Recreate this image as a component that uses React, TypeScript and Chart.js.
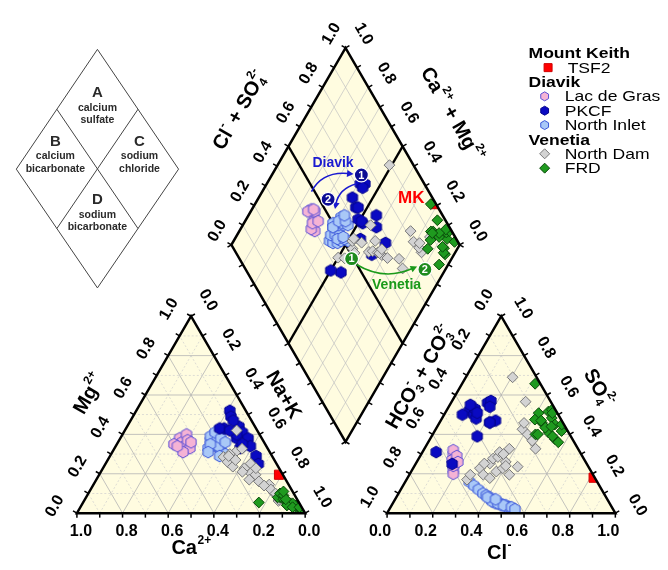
import React, { useEffect, useRef } from "react";
import { Chart, registerables } from "chart.js";

Chart.register(...registerables);

const W = 668;
const H = 570;
const FONT = "'Liberation Sans', Arial, Helvetica, sans-serif";

// ===== Data: cation fractions (Mg, Na+K; Ca = remainder) and anion fractions (SO4, Cl; HCO3+CO3 = remainder) =====
const tsfMg = [0.195];
const tsfNaK = [0.788];
const tsfSO4 = [0.18];
const tsfCl = [0.815];

const lacMg = [0.38, 0.36, 0.34, 0.33, 0.4, 0.35, 0.31, 0.37, 0.34, 0.36];
const lacNaK = [0.26, 0.28, 0.3, 0.33, 0.28, 0.25, 0.31, 0.3, 0.27, 0.32];
const lacSO4 = [0.3, 0.28, 0.25, 0.22, 0.32, 0.27, 0.2, 0.24, 0.29, 0.26];
const lacCl = [0.14, 0.16, 0.17, 0.18, 0.13, 0.15, 0.19, 0.17, 0.16, 0.18];

const pkMg = [0.52, 0.49, 0.44, 0.43, 0.41, 0.38, 0.38, 0.34, 0.33, 0.29, 0.25, 0.43, 0.35, 0.4, 0.47, 0.42];
const pkNaK = [0.41, 0.43, 0.49, 0.43, 0.52, 0.51, 0.56, 0.59, 0.55, 0.64, 0.67, 0.41, 0.55, 0.5, 0.45, 0.46];
const pkSO4 = [0.56, 0.57, 0.52, 0.54, 0.5, 0.48, 0.47, 0.46, 0.5, 0.39, 0.46, 0.53, 0.25, 0.31, 0.55, 0.51];
const pkCl = [0.16, 0.17, 0.1, 0.18, 0.13, 0.15, 0.24, 0.22, 0.08, 0.2, 0.22, 0.12, 0.16, 0.06, 0.09, 0.14];

const niMg = [0.36, 0.34, 0.38, 0.33, 0.35, 0.37, 0.32, 0.36, 0.39, 0.34, 0.3, 0.35, 0.37, 0.33, 0.36, 0.41, 0.34, 0.29, 0.35, 0.38, 0.36, 0.31];
const niNaK = [0.42, 0.44, 0.41, 0.46, 0.43, 0.4, 0.47, 0.45, 0.39, 0.42, 0.5, 0.44, 0.43, 0.41, 0.46, 0.4, 0.45, 0.48, 0.41, 0.44, 0.47, 0.42];
const niSO4 = [0.16, 0.14, 0.12, 0.1, 0.09, 0.08, 0.07, 0.06, 0.05, 0.05, 0.04, 0.04, 0.03, 0.03, 0.02, 0.06, 0.08, 0.05, 0.04, 0.03, 0.07, 0.02];
const niCl = [0.28, 0.31, 0.34, 0.37, 0.39, 0.41, 0.42, 0.44, 0.45, 0.47, 0.48, 0.5, 0.51, 0.52, 0.54, 0.43, 0.4, 0.46, 0.49, 0.53, 0.44, 0.55];

const ndMg = [0.42, 0.285, 0.26, 0.31, 0.327, 0.236, 0.3, 0.228, 0.252, 0.203, 0.195, 0.17, 0.228, 0.161, 0.145, 0.104, 0.062, 0.12, 0.09, 0.14, 0.1, 0.07, 0.29, 0.27, 0.21];
const ndNaK = [0.49, 0.5, 0.53, 0.54, 0.56, 0.565, 0.52, 0.62, 0.635, 0.66, 0.685, 0.67, 0.67, 0.717, 0.77, 0.81, 0.852, 0.79, 0.83, 0.75, 0.82, 0.85, 0.52, 0.56, 0.62];
const ndSO4 = [0.69, 0.17, 0.195, 0.228, 0.195, 0.252, 0.178, 0.211, 0.277, 0.228, 0.195, 0.285, 0.31, 0.26, 0.327, 0.236, 0.327, 0.426, 0.4, 0.368, 0.458, 0.566, 0.252, 0.3, 0.24];
const ndCl = [0.205, 0.265, 0.267, 0.293, 0.324, 0.324, 0.361, 0.373, 0.326, 0.393, 0.438, 0.343, 0.338, 0.39, 0.372, 0.454, 0.487, 0.38, 0.415, 0.452, 0.371, 0.324, 0.3, 0.36, 0.4];

const frdMg = [0.054, 0.08, 0.08, 0.04, 0.1, 0.03, 0.05, 0.07, 0.02, 0.04, 0.06, 0.03, 0.09, 0.05, 0.02, 0.04, 0.07, 0.03, 0.03, 0.11];
const frdNaK = [0.77, 0.85, 0.84, 0.9, 0.84, 0.93, 0.91, 0.87, 0.96, 0.94, 0.89, 0.95, 0.86, 0.92, 0.97, 0.9, 0.88, 0.93, 0.96, 0.85];
const frdSO4 = [0.657, 0.508, 0.516, 0.483, 0.458, 0.45, 0.417, 0.4, 0.409, 0.376, 0.36, 0.434, 0.475, 0.45, 0.525, 0.508, 0.44, 0.39, 0.4, 0.47];
const frdCl = [0.32, 0.41, 0.449, 0.48, 0.45, 0.51, 0.556, 0.45, 0.503, 0.547, 0.57, 0.476, 0.41, 0.54, 0.46, 0.47, 0.5, 0.53, 0.46, 0.44];

const tickSteps = [0, 0.1, 0.2, 0.3, 0.4, 0.5, 0.6, 0.7, 0.8, 0.9, 1.0];
const labelSteps = [0, 0.2, 0.4, 0.6, 0.8, 1.0];

// ===== Geometry (in the scales' value space) =====
const R3 = Math.sqrt(3) / 2;
const SIDE = 233.5;
const HT = SIDE * R3;
const CAT = { x: 71, y: 519.3 };
const ANI = { x: 388.3, y: 519.3 };
const DIA = { x: 345.8, y: 446 };

type Pt = { x: number; y: number };
const catXY = (mg: number, nak: number): Pt => ({ x: CAT.x + SIDE * (nak + mg / 2), y: CAT.y - HT * mg });
const aniXY = (so4: number, cl: number): Pt => ({ x: ANI.x + SIDE * (cl + so4 / 2), y: ANI.y - HT * so4 });
const diaXY = (cm: number, cs: number): Pt => ({ x: DIA.x + ((cs - cm) * SIDE) / 2, y: DIA.y - (cs + cm) * HT });

const groupDefs = [
  { name: "FRD", mg: frdMg, nak: frdNaK, so4: frdSO4, cl: frdCl, marker: "diamond", fill: "#1f9a1f", stroke: "#0b4a0b" },
  { name: "North Dam", mg: ndMg, nak: ndNaK, so4: ndSO4, cl: ndCl, marker: "diamond", fill: "#d3d3d3", stroke: "#787878" },
  { name: "PKCF", mg: pkMg, nak: pkNaK, so4: pkSO4, cl: pkCl, marker: "hex", fill: "#0a0ac2", stroke: "#05058c" },
  { name: "North Inlet", mg: niMg, nak: niNaK, so4: niSO4, cl: niCl, marker: "hex", fill: "#a9c8f7", stroke: "#3a56d8" },
  { name: "Lac de Gras", mg: lacMg, nak: lacNaK, so4: lacSO4, cl: lacCl, marker: "hex", fill: "#f5b3d5", stroke: "#5b4fd6" },
  { name: "TSF2", mg: tsfMg, nak: tsfNaK, so4: tsfSO4, cl: tsfCl, marker: "square", fill: "#ff0000", stroke: "#d00000" },
];

const legendRows = [
  { head: "Mount Keith" },
  { item: "TSF2" },
  { head: "Diavik" },
  { item: "Lac de Gras" },
  { item: "PKCF" },
  { item: "North Inlet" },
  { head: "Venetia" },
  { item: "North Dam" },
  { item: "FRD" },
];

type Seg = { t: string; sup?: string; sub?: string };
const titles: { segs: Seg[]; x: number; y: number; rot: number }[] = [
  { segs: [{ t: "Mg", sup: "2+" }], x: 84, y: 397, rot: -60 },
  { segs: [{ t: "Na+K" }], x: 282, y: 398, rot: 60 },
  { segs: [{ t: "Ca", sup: "2+" }], x: 188, y: 556, rot: 0 },
  { segs: [{ t: "HCO", sub: "3", sup: "-" }, { t: " + CO", sub: "3", sup: "2-" }], x: 422, y: 380, rot: -60 },
  { segs: [{ t: "SO", sub: "4", sup: "2-" }], x: 604, y: 391, rot: 60 },
  { segs: [{ t: "Cl", sup: "-" }], x: 503, y: 561, rot: 0 },
  { segs: [{ t: "Cl", sup: "-" }, { t: " + SO", sub: "4", sup: "2-" }], x: 238, y: 106, rot: -60 },
  { segs: [{ t: "Ca", sup: "2+" }, { t: " + Mg", sup: "2+" }], x: 454, y: 110, rot: 60 },
];

const BLUE = "#1a1ad0";
const GREEN = "#1a9a1a";
const annoText = [
  { t: "Diavik", x: 333, y: 160, c: BLUE, s: 14 },
  { t: "Venetia", x: 398, y: 285, c: GREEN, s: 14 },
  { t: "MK", x: 413, y: 196, c: "#ff0000", s: 17 },
];
const annoArrows = [
  { p0: [311, 189], c: [322, 168], p1: [354, 171], col: BLUE },
  { p0: [357, 181], c: [339, 186], p1: [335, 207], col: BLUE },
  { p0: [357, 264], c: [385, 281], p1: [419, 266], col: GREEN },
];
const annoCircles = [
  { t: "1", x: 362, y: 172, c: "#0c0c94" },
  { t: "2", x: 328, y: 197, c: "#0c0c94" },
  { t: "1", x: 352, y: 258, c: "#1e8c1e" },
  { t: "2", x: 427, y: 269, c: "#1e8c1e" },
];

// ===== drawing helpers =====
function hexPath(g: CanvasRenderingContext2D, cx: number, cy: number, r: number) {
  g.beginPath();
  for (let k = 0; k < 6; k++) {
    const a = -Math.PI / 2 + (k * Math.PI) / 3;
    const x = cx + r * Math.cos(a);
    const y = cy + r * Math.sin(a);
    if (k === 0) g.moveTo(x, y);
    else g.lineTo(x, y);
  }
  g.closePath();
}

function hexImage(fill: string, stroke: string, r: number) {
  const size = 14;
  const c = document.createElement("canvas");
  c.width = size;
  c.height = size;
  const g = c.getContext("2d")!;
  hexPath(g, size / 2, size / 2, r);
  g.fillStyle = fill;
  g.fill();
  g.lineWidth = 1;
  g.strokeStyle = stroke;
  g.stroke();
  return c;
}

function drawMarker(ctx: CanvasRenderingContext2D, kind: string, x: number, y: number, size: number, fill: string, stroke: string) {
  ctx.beginPath();
  if (kind === "hex") hexPath(ctx, x, y, size);
  else if (kind === "diamond") {
    ctx.moveTo(x, y - size);
    ctx.lineTo(x + size, y);
    ctx.lineTo(x, y + size);
    ctx.lineTo(x - size, y);
    ctx.closePath();
  } else ctx.rect(x - size, y - size, 2 * size, 2 * size);
  ctx.fillStyle = fill;
  ctx.fill();
  ctx.lineWidth = 1;
  ctx.strokeStyle = stroke;
  ctx.stroke();
}

function drawRich(ctx: CanvasRenderingContext2D, segs: Seg[], cx: number, cy: number, deg: number, size: number) {
  ctx.save();
  ctx.translate(cx, cy);
  ctx.rotate((deg * Math.PI) / 180);
  ctx.textBaseline = "middle";
  ctx.textAlign = "left";
  ctx.fillStyle = "#000";
  const small = Math.round(size * 0.62);
  let w = 0;
  for (const s of segs) {
    ctx.font = `bold ${size}px ${FONT}`;
    w += ctx.measureText(s.t).width;
    ctx.font = `bold ${small}px ${FONT}`;
    w += Math.max(s.sup ? ctx.measureText(s.sup).width + 0.5 : 0, s.sub ? ctx.measureText(s.sub).width + 0.5 : 0);
  }
  let x = -w / 2;
  for (const s of segs) {
    ctx.font = `bold ${size}px ${FONT}`;
    ctx.fillText(s.t, x, 0);
    x += ctx.measureText(s.t).width;
    ctx.font = `bold ${small}px ${FONT}`;
    let a = 0;
    let b = 0;
    if (s.sup) {
      ctx.fillText(s.sup, x + 0.5, -size * 0.4);
      a = ctx.measureText(s.sup).width + 0.5;
    }
    if (s.sub) {
      ctx.fillText(s.sub, x + 0.5, size * 0.32);
      b = ctx.measureText(s.sub).width + 0.5;
    }
    x += Math.max(a, b);
  }
  ctx.restore();
}

export default function App() {
  const ref = useRef<HTMLCanvasElement>(null);

  useEffect(() => {
    document.body.style.margin = "0";
    const canvas = ref.current!;

    const datasets: any[] = [];
    for (const g of groupDefs) {
      for (const region of ["cat", "ani", "dia"]) {
        const data = g.mg.map((_, i) => {
          if (region === "cat") return catXY(g.mg[i], g.nak[i]);
          if (region === "ani") return aniXY(g.so4[i], g.cl[i]);
          return diaXY(1 - g.nak[i], g.so4[i] + g.cl[i]);
        });
        const ds: any = {
          label: g.name,
          data,
          region,
          clip: false,
          pointBackgroundColor: g.fill,
          pointBorderColor: g.stroke,
          pointBorderWidth: 1,
        };
        if (g.marker === "hex") {
          ds.pointStyle = hexImage(g.fill, g.stroke, 5.9);
          ds.pointRadius = 6;
        } else if (g.marker === "diamond") {
          ds.pointStyle = "rectRot";
          ds.pointRadius = 5.4;
        } else {
          ds.pointStyle = "rect";
          ds.pointRadius = 6.5;
        }
        datasets.push(ds);
      }
    }

    const piper = {
      id: "piper",
      beforeDatasetsDraw(chart: any) {
        const ctx: CanvasRenderingContext2D = chart.ctx;
        const X = (v: number) => chart.scales.x.getPixelForValue(v);
        const Y = (v: number) => chart.scales.y.getPixelForValue(v);
        const poly = (pts: Pt[]) => {
          ctx.beginPath();
          pts.forEach((p, i) => (i ? ctx.lineTo(X(p.x), Y(p.y)) : ctx.moveTo(X(p.x), Y(p.y))));
          ctx.closePath();
        };
        const seg = (a: Pt, b: Pt) => {
          ctx.beginPath();
          ctx.moveTo(X(a.x), Y(a.y));
          ctx.lineTo(X(b.x), Y(b.y));
          ctx.stroke();
        };
        ctx.save();
        ctx.fillStyle = "#fffce0";
        poly([catXY(0, 0), catXY(0, 1), catXY(1, 0)]);
        ctx.fill();
        poly([aniXY(0, 0), aniXY(0, 1), aniXY(1, 0)]);
        ctx.fill();
        poly([diaXY(0, 0), diaXY(1, 0), diaXY(1, 1), diaXY(0, 1)]);
        ctx.fill();

        for (let k = 1; k <= 9; k++) {
          const v = k / 10;
          if (k % 2 === 0) {
            ctx.setLineDash([]);
            ctx.strokeStyle = "#b4b4b4";
            ctx.lineWidth = 0.8;
          } else {
            ctx.setLineDash([2, 2]);
            ctx.strokeStyle = "#cfcfcf";
            ctx.lineWidth = 0.7;
          }
          seg(catXY(v, 0), catXY(v, 1 - v));
          seg(catXY(0, v), catXY(1 - v, v));
          seg(catXY(0, 1 - v), catXY(1 - v, 0));
          seg(aniXY(v, 0), aniXY(v, 1 - v));
          seg(aniXY(0, v), aniXY(1 - v, v));
          seg(aniXY(0, 1 - v), aniXY(1 - v, 0));
          if (k !== 5) {
            ctx.setLineDash([]);
            ctx.strokeStyle = "#c2c2c2";
            ctx.lineWidth = 0.7;
            seg(diaXY(v, 0), diaXY(v, 1));
            seg(diaXY(0, v), diaXY(1, v));
          }
        }
        ctx.setLineDash([]);
        ctx.strokeStyle = "#000";
        ctx.lineWidth = 2.3;
        seg(diaXY(0.5, 0), diaXY(0.5, 1));
        seg(diaXY(0, 0.5), diaXY(1, 0.5));
        ctx.restore();
      },
      beforeDatasetDraw(chart: any, args: any) {
        const ctx: CanvasRenderingContext2D = chart.ctx;
        const X = (v: number) => chart.scales.x.getPixelForValue(v);
        const Y = (v: number) => chart.scales.y.getPixelForValue(v);
        const region = chart.data.datasets[args.index].region;
        const pts =
          region === "cat"
            ? [catXY(0, 0), catXY(0, 1), catXY(1, 0)]
            : region === "ani"
            ? [aniXY(0, 0), aniXY(0, 1), aniXY(1, 0)]
            : [diaXY(0, 0), diaXY(1, 0), diaXY(1, 1), diaXY(0, 1)];
        ctx.save();
        ctx.beginPath();
        pts.forEach((p, i) => (i ? ctx.lineTo(X(p.x), Y(p.y)) : ctx.moveTo(X(p.x), Y(p.y))));
        ctx.closePath();
        ctx.clip();
      },
      afterDatasetDraw(chart: any) {
        chart.ctx.restore();
      },
      afterDatasetsDraw(chart: any) {
        const ctx: CanvasRenderingContext2D = chart.ctx;
        const X = (v: number) => chart.scales.x.getPixelForValue(v);
        const Y = (v: number) => chart.scales.y.getPixelForValue(v);
        ctx.save();
        // frames
        ctx.strokeStyle = "#000";
        ctx.lineWidth = 2.5;
        ctx.lineJoin = "miter";
        const frame = (pts: Pt[]) => {
          ctx.beginPath();
          pts.forEach((p, i) => (i ? ctx.lineTo(X(p.x), Y(p.y)) : ctx.moveTo(X(p.x), Y(p.y))));
          ctx.closePath();
          ctx.stroke();
        };
        frame([catXY(0, 0), catXY(0, 1), catXY(1, 0)]);
        frame([aniXY(0, 0), aniXY(0, 1), aniXY(1, 0)]);
        frame([diaXY(0, 0), diaXY(1, 0), diaXY(1, 1), diaXY(0, 1)]);

        type Edge = { at: (v: number) => Pt; n: number[]; label?: (v: number) => number; off?: number[]; rot?: number };
        const edges: Edge[] = [
          { at: (v) => catXY(0, v), n: [0, 1], label: (v) => 1 - v, off: [4, 18], rot: 0 },
          { at: (v) => catXY(v, 0), n: [-R3, -0.5], label: (v) => v, off: [-22, -7], rot: -60 },
          { at: (v) => catXY(v, 1 - v), n: [R3, -0.5], label: (v) => 1 - v, off: [17, -16], rot: 60 },
          { at: (v) => aniXY(0, v), n: [0, 1], label: (v) => v, off: [-7, 18], rot: 0 },
          { at: (v) => aniXY(v, 0), n: [-R3, -0.5], label: (v) => 1 - v, off: [-17, -16], rot: -60 },
          { at: (v) => aniXY(v, 1 - v), n: [R3, -0.5], label: (v) => v, off: [22, -8], rot: 60 },
          { at: (v) => diaXY(1, v), n: [-R3, -0.5], label: (v) => v, off: [-14, -14], rot: -60 },
          { at: (v) => diaXY(v, 1), n: [R3, -0.5], label: (v) => v, off: [18, -14], rot: 60 },
          { at: (v) => diaXY(v, 0), n: [-R3, 0.5] },
          { at: (v) => diaXY(0, v), n: [R3, 0.5] },
        ];
        ctx.lineWidth = 1.5;
        for (const e of edges) {
          for (const v of tickSteps) {
            const p = e.at(v);
            const px = X(p.x);
            const py = Y(p.y);
            ctx.beginPath();
            ctx.moveTo(px, py);
            ctx.lineTo(px + e.n[0] * 4.5, py + e.n[1] * 4.5);
            ctx.stroke();
          }
        }
        ctx.fillStyle = "#000";
        ctx.font = `bold 16px ${FONT}`;
        ctx.textAlign = "center";
        ctx.textBaseline = "middle";
        for (const e of edges) {
          if (!e.label) continue;
          for (const v of labelSteps) {
            const p = e.at(v);
            ctx.save();
            ctx.translate(X(p.x) + e.off![0], Y(p.y) + e.off![1]);
            ctx.rotate(((e.rot || 0) * Math.PI) / 180);
            ctx.fillText(Math.abs(e.label(v)).toFixed(1), 0, 0);
            ctx.restore();
          }
        }
        for (const t of titles) drawRich(ctx, t.segs, X(t.x), Y(t.y), t.rot, 20);

        // annotations
        for (const a of annoArrows) {
          ctx.strokeStyle = a.col;
          ctx.fillStyle = a.col;
          ctx.lineWidth = 1.6;
          const p0 = [X(a.p0[0]), Y(a.p0[1])];
          const c = [X(a.c[0]), Y(a.c[1])];
          const p1 = [X(a.p1[0]), Y(a.p1[1])];
          const ang = Math.atan2(p1[1] - c[1], p1[0] - c[0]);
          const L = 6.5;
          const back = [p1[0] - Math.cos(ang) * L * 0.8, p1[1] - Math.sin(ang) * L * 0.8];
          ctx.beginPath();
          ctx.moveTo(p0[0], p0[1]);
          ctx.quadraticCurveTo(c[0], c[1], back[0], back[1]);
          ctx.stroke();
          ctx.beginPath();
          ctx.moveTo(p1[0], p1[1]);
          ctx.lineTo(p1[0] - Math.cos(ang) * L - Math.sin(ang) * 3.5, p1[1] - Math.sin(ang) * L + Math.cos(ang) * 3.5);
          ctx.lineTo(p1[0] - Math.cos(ang) * L + Math.sin(ang) * 3.5, p1[1] - Math.sin(ang) * L - Math.cos(ang) * 3.5);
          ctx.closePath();
          ctx.fill();
        }
        for (const c of annoCircles) {
          ctx.beginPath();
          ctx.arc(X(c.x), Y(c.y), 7, 0, Math.PI * 2);
          ctx.fillStyle = c.c;
          ctx.fill();
          ctx.lineWidth = 1.2;
          ctx.strokeStyle = "#ffffff";
          ctx.stroke();
          ctx.fillStyle = "#fff";
          ctx.font = `bold 11px ${FONT}`;
          ctx.textAlign = "center";
          ctx.textBaseline = "middle";
          ctx.fillText(c.t, X(c.x), Y(c.y) + 0.5);
        }
        for (const t of annoText) {
          ctx.fillStyle = t.c;
          ctx.font = `bold ${t.s}px ${FONT}`;
          ctx.textAlign = "center";
          ctx.textBaseline = "middle";
          ctx.fillText(t.t, X(t.x), Y(t.y));
        }

        // inset classification diamond
        const iT = { x: 92, y: 43 };
        const iL = { x: 9, y: 166 };
        const iR = { x: 175, y: 166 };
        const iB = { x: 92, y: 288 };
        const mid = (a: Pt, b: Pt) => ({ x: (a.x + b.x) / 2, y: (a.y + b.y) / 2 });
        ctx.strokeStyle = "#444";
        ctx.lineWidth = 1;
        ctx.beginPath();
        [iT, iR, iB, iL].forEach((p, i) => (i ? ctx.lineTo(X(p.x), Y(p.y)) : ctx.moveTo(X(p.x), Y(p.y))));
        ctx.closePath();
        ctx.stroke();
        const m1 = mid(iT, iL), m2 = mid(iR, iB), m3 = mid(iT, iR), m4 = mid(iL, iB);
        ctx.beginPath();
        ctx.moveTo(X(m1.x), Y(m1.y));
        ctx.lineTo(X(m2.x), Y(m2.y));
        ctx.moveTo(X(m3.x), Y(m3.y));
        ctx.lineTo(X(m4.x), Y(m4.y));
        ctx.stroke();
        const inset = [
          { l: "A", w: ["calcium", "sulfate"], x: 92, y: 88 },
          { l: "B", w: ["calcium", "bicarbonate"], x: 49, y: 138 },
          { l: "C", w: ["sodium", "chloride"], x: 135, y: 138 },
          { l: "D", w: ["sodium", "bicarbonate"], x: 92, y: 198 },
        ];
        ctx.fillStyle = "#2a2a2a";
        ctx.textAlign = "center";
        ctx.textBaseline = "middle";
        for (const s of inset) {
          ctx.font = `bold 15px ${FONT}`;
          ctx.fillText(s.l, X(s.x), Y(s.y));
          ctx.font = `bold 10.5px ${FONT}`;
          ctx.fillText(s.w[0], X(s.x), Y(s.y + 15));
          ctx.fillText(s.w[1], X(s.x), Y(s.y + 28));
        }

        // legend
        ctx.textAlign = "left";
        const stretchText = (txt: string, x: number, y: number, font: string) => {
          ctx.save();
          ctx.translate(x, y);
          ctx.scale(1.17, 1);
          ctx.font = font;
          ctx.fillText(txt, 0, 0);
          ctx.restore();
        };
        legendRows.forEach((r: any, i) => {
          const y = Y(47 + i * 14.75);
          if (r.head) {
            ctx.fillStyle = "#000";
            stretchText(r.head, X(533), y + 1, `bold 15px ${FONT}`);
          } else {
            const g = groupDefs.find((d) => d.name === r.item)!;
            const isT = g.marker === "square";
            const mx = X(isT ? 553 : 549.5);
            if (g.marker === "hex") drawMarker(ctx, "hex", mx, y, 4.5, g.fill, g.stroke);
            else if (g.marker === "diamond") drawMarker(ctx, "diamond", mx, y, 5, g.fill, g.stroke);
            else drawMarker(ctx, "square", mx, y, 4, g.fill, g.stroke);
            ctx.fillStyle = "#000";
            stretchText(r.item, X(isT ? 573 : 570), y + 1, `15px ${FONT}`);
          }
        });
        ctx.restore();
      },
    };

    const chart = new Chart(canvas, {
      type: "scatter",
      data: { datasets },
      options: {
        animation: false,
        responsive: false,
        maintainAspectRatio: false,
        devicePixelRatio: 1,
        events: [],
        layout: { padding: 0 },
        scales: {
          x: { type: "linear", min: 0, max: W, display: false },
          y: { type: "linear", min: 0, max: H, reverse: true, display: false },
        },
        plugins: { legend: { display: false }, tooltip: { enabled: false } },
      },
      plugins: [piper],
    } as any);
    return () => chart.destroy();
  }, []);

  return (
    <div style={{ width: W, height: H, background: "#fff" }}>
      <canvas ref={ref} width={W} height={H} style={{ display: "block", width: W, height: H }} />
    </div>
  );
}
